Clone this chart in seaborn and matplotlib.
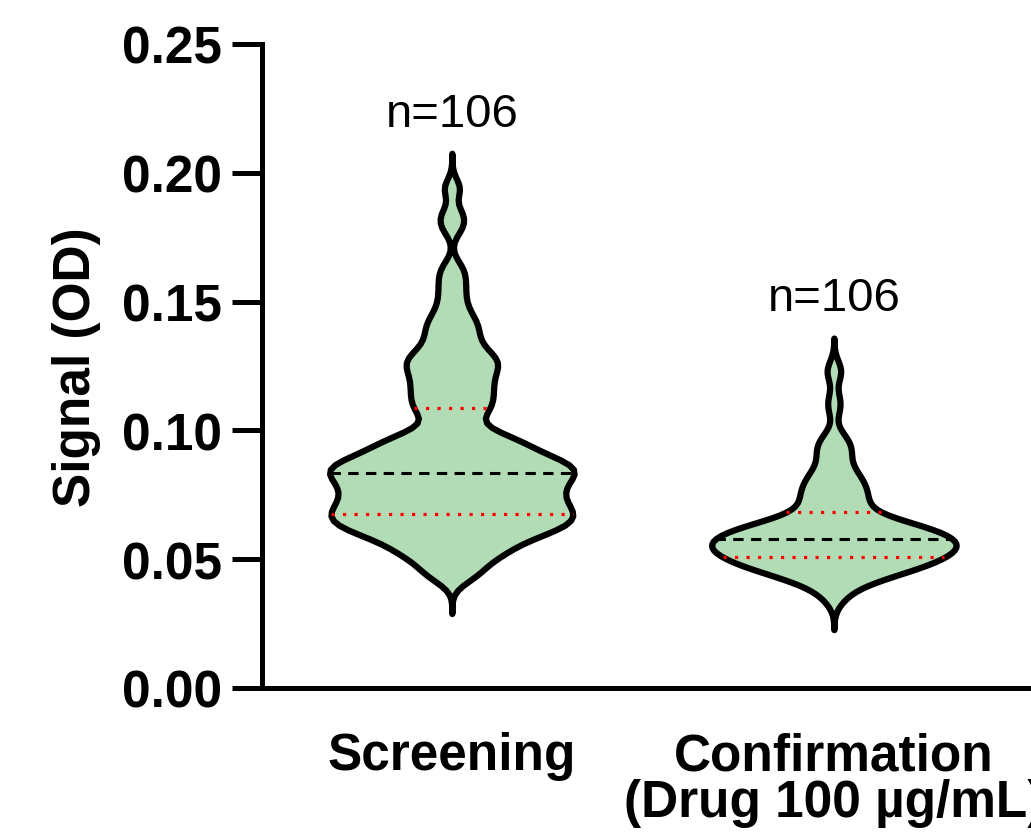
import numpy as np
import pandas as pd
import seaborn as sns
import matplotlib
matplotlib.use("Agg")
import matplotlib.pyplot as plt

categories = ["Screening", "Confirmation\n(Drug 100 µg/mL)"]

screening = [
    0.0425,
    0.0445,
    0.0465, 0.049,
    0.051, 0.052, 0.053, 0.054,
    0.0557, 0.0566, 0.0575, 0.0584, 0.0593,
    0.0602, 0.0607, 0.0613, 0.0619, 0.0625, 0.0631, 0.0637, 0.0643, 0.0648,
    0.0653, 0.0658, 0.0664, 0.0669, 0.0675, 0.0680, 0.0686, 0.0691, 0.0697,
    0.0703, 0.0709, 0.0715, 0.0721, 0.0727, 0.0733, 0.0739, 0.0746,
    0.0753, 0.0759, 0.0765, 0.0771, 0.0777, 0.0783, 0.0789, 0.0796,
    0.0803, 0.0808, 0.0814, 0.0819, 0.0825, 0.0830, 0.0836, 0.0841, 0.0847,
    0.0852, 0.0857, 0.0862, 0.0867, 0.0872, 0.0877, 0.0882, 0.0888, 0.0894,
    0.0905, 0.0913, 0.0921, 0.0929, 0.0937, 0.0945,
    0.0955, 0.0965, 0.0975, 0.0985, 0.0995,
    0.1030,
    0.1058, 0.1075, 0.1092,
    0.1108, 0.1125, 0.1142,
    0.1158, 0.1175, 0.1192,
    0.1208, 0.1225, 0.1242,
    0.1256, 0.1268, 0.1281, 0.1294,
    0.1315, 0.1338,
    0.1365, 0.1390,
    0.1415, 0.1440,
    0.148, 0.153, 0.158, 0.163,
    0.179, 0.184,
    0.194,
]

confirmation = [
    0.034,
    0.0365, 0.0390,
    0.0405, 0.0412, 0.0419, 0.0426, 0.0433, 0.0440, 0.0447,
    0.0452, 0.0455, 0.0459, 0.0462, 0.0466, 0.0469, 0.0473, 0.0476, 0.0480, 0.0483,
    0.0487, 0.0490, 0.0494, 0.0497,
    0.0501, 0.0504, 0.0507, 0.0509, 0.0512, 0.0515, 0.0518, 0.0520, 0.0523, 0.0526,
    0.0529, 0.0531, 0.0534, 0.0537, 0.0540, 0.0542, 0.0545, 0.0548,
    0.0551, 0.0554, 0.0556, 0.0559, 0.0561, 0.0564, 0.0566, 0.0569, 0.0571, 0.0574,
    0.0576, 0.0579, 0.0581, 0.0584, 0.0586, 0.0589, 0.0591, 0.0594, 0.0597,
    0.0602, 0.0606, 0.0609, 0.0613, 0.0615, 0.0617, 0.0621, 0.0625, 0.0629, 0.0633,
    0.0635, 0.0637, 0.0641, 0.0644, 0.0648,
    0.0656, 0.0665, 0.0675, 0.0685, 0.0695,
    0.0705, 0.0715, 0.0725, 0.0735, 0.0745,
    0.0755, 0.0765, 0.0775, 0.0785, 0.0795,
    0.0806, 0.0819, 0.0831, 0.0844,
    0.0862, 0.0887,
    0.0908, 0.0925, 0.0942,
    0.0960, 0.0985,
    0.108, 0.1125,
    0.1215, 0.1245,
]

n_labels = ["n=106", "n=106"]
n_label_y = [0.2182, 0.1467]

yticks = [0.00, 0.05, 0.10, 0.15, 0.20, 0.25]

sns.set_theme(style="ticks")
plt.rcParams["font.family"] = ["Liberation Sans", "DejaVu Sans"]
plt.rcParams.update({"text.color": "black", "axes.labelcolor": "black",
                     "xtick.color": "black", "ytick.color": "black",
                     "axes.edgecolor": "black"})

df = pd.DataFrame({
    "group": [categories[0]] * len(screening) + [categories[1]] * len(confirmation),
    "signal": screening + confirmation,
})

fig = plt.figure(figsize=(10.31, 8.37), dpi=100)
ax = fig.add_axes([262 / 1031, 1 - 689 / 837, (1031 - 262) / 1031, (689 - 45) / 837])

fill = "#b2dcb5"
bw_adj = [0.30, 0.55]
cuts = [3.6, 3.0]
for cat, bw, ct in zip(categories, bw_adj, cuts):
    sns.violinplot(data=df[df["group"] == cat], x="group", y="signal", order=categories,
                   inner="quart", cut=ct, bw_adjust=bw, density_norm="width", width=0.64,
                   color=fill, linecolor="black", linewidth=4.5, saturation=1,
                   inner_kws=dict(linewidth=2.0), ax=ax)

for coll in ax.collections:
    coll.set_linewidth(4.5)
    coll.set_joinstyle("round")
    coll.set_capstyle("round")

# restyle quartile lines: q25/q75 red dotted, median black dashed
for i, ln in enumerate(ax.lines):
    k = i % 3
    if k == 1:
        ln.set_color("black")
        ln.set_linewidth(2.2)
        ln.set_linestyle((0, (3.4, 2.4)))
    else:
        ln.set_color("red")
        ln.set_linewidth(2.3)
        ln.set_linestyle((0, (1.0, 2.6)))

for i, (t, yv) in enumerate(zip(n_labels, n_label_y)):
    ax.text(i, yv, t, ha="center", va="baseline", fontsize=34, color="black")

ax.set_ylim(0, 0.25)
ax.set_xlim(-0.497, 1.516)
ax.set_yticks(yticks)
ax.set_yticklabels([f"{v:.2f}" for v in yticks], fontsize=37, fontweight="bold")
ax.set_xticks([0, 1])
ax.set_xticklabels(categories, fontsize=37, fontweight="bold", linespacing=0.95)
ax.tick_params(axis="y", length=21.6, width=3.6, pad=7)
ax.tick_params(axis="x", length=0, pad=31)
ax.set_xlabel("")
ax.set_ylabel("Signal (OD)", fontsize=37, fontweight="bold", labelpad=15)
for s in ["top", "right"]:
    ax.spines[s].set_visible(False)
for s in ["left", "bottom"]:
    ax.spines[s].set_linewidth(3.6)

fig.savefig("out.png", dpi=100)
